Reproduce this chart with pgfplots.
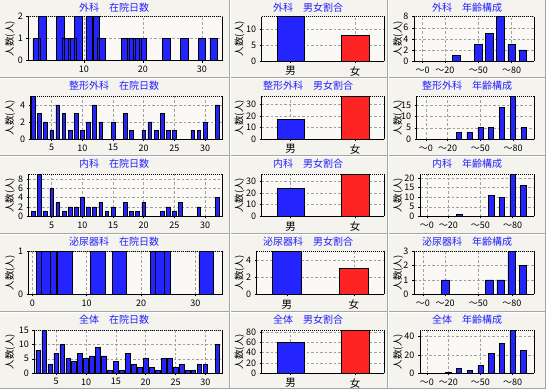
\documentclass[border=0pt]{standalone}
\usepackage{fontspec}
\setmainfont{Noto Sans CJK JP}
\usepackage{pgfplots}
\pgfplotsset{compat=1.18}
\definecolor{bgout}{RGB}{245,243,237}
\definecolor{bgin}{RGB}{250,249,245}
\definecolor{barblue}{RGB}{36,36,255}
\definecolor{barred}{RGB}{255,36,36}
\definecolor{titleblue}{RGB}{32,32,255}
\definecolor{gridgray}{RGB}{160,160,160}
\definecolor{sepgray}{RGB}{165,165,165}
\pgfplotsset{
 panel/.style={
  scale only axis, anchor=south west,
  axis background/.style={fill=bgin},
  axis x line*=bottom, axis y line*=left,
  axis line style={black, line width=0.9pt},
  ymin=0,
  ybar, bar shift=0pt,
  grid=major,
  major grid style={gridgray, dash pattern=on 2.5pt off 2pt, line width=0.5pt},
  tick align=outside, major tick length=2pt,
  tick style={black, line width=0.5pt},
  tick label style={font=\fontsize{9}{9}\selectfont},
  /pgf/number format/assume math mode=true,
  extra description/.code={
    \draw[black, line width=0.9pt, dash pattern=on 1pt off 1pt] (0,1) -- (1,1);
    \draw[black, line width=0.9pt] (1,0) -- (1,1);
  },
 },
 sexp/.style={panel, xmin=-0.45, xmax=1.45, bar width=0.43, xtick={0,1}, xticklabels={男,女},
   xticklabel style={font=\fontsize{10.5}{10.5}\selectfont}},
 agep/.style={panel, xmax=10, xtick={0,2,5,8}, xticklabels={～0,～20,～50,～80}},
 bb/.style={fill=barblue, draw=black, line width=0.6pt},
 rb/.style={fill=barred, draw=black, line width=0.6pt},
}
\newcommand{\ttl}[3]{\node[text=titleblue, font=\fontsize{10}{10}\selectfont] at (#1pt,#2pt) {#3};}
\newcommand{\ylab}[2]{\node[rotate=90, font=\fontsize{9.5}{9.5}\selectfont] at (#1pt,#2pt) {人数(人)};}
\begin{document}
\begin{tikzpicture}
\useasboundingbox (0pt,0pt) rectangle (546pt,389pt);
\fill[bgout] (0pt,0pt) rectangle (546pt,389pt);
% separators
\foreach \yy in {311.5,233.5,155.5,77.5}{
  \draw[sepgray, line width=1pt] (0pt,\yy pt) -- (546pt,\yy pt);
  \draw[white, line width=0.8pt] (0pt,\yy pt-1pt) -- (546pt,\yy pt-1pt);
}
\draw[sepgray, line width=1pt] (229pt,0pt) -- (229pt,389pt);
\draw[white, line width=0.8pt] (230pt,0pt) -- (230pt,389pt);
\draw[sepgray, line width=1pt] (387pt,0pt) -- (387pt,389pt);
\draw[white, line width=0.8pt] (388pt,0pt) -- (388pt,389pt);
\draw[sepgray, line width=1pt] (545.5pt,0pt) -- (545.5pt,389pt);
\draw[sepgray, line width=1pt] (0pt,0.5pt) -- (546pt,0.5pt);

% ---------------- Row 1: 外科
\begin{axis}[panel, at={(28.3pt,328.3pt)}, width=194pt, height=44pt,
  xmin=0.58, xmax=33.46, ymax=2, ytick={0,1,2}, xtick={10,20,30}, bar width=1.3]
\addplot[bb] coordinates {(2,1)(3,2)(6,2)(7,1)(8,1)(9,2)(11,2)(12,2)(13,1)(17,1)(18,1)(19,1)(20,1)(24,1)(27,1)(30,1)(32,1)};
\end{axis}
\begin{axis}[sexp, at={(261.7pt,328pt)}, width=122.3pt, height=44.3pt, ymax=14, ytick={0,5,10}]
\addplot[bb] coordinates {(0,14)};
\addplot[rb] coordinates {(1,8)};
\end{axis}
\begin{axis}[agep, at={(414pt,328pt)}, width=120pt, height=44.3pt, xmin=-0.78, ymax=8, ytick={0,2,4,6,8}, bar width=0.69]
\addplot[bb] coordinates {(3,1)(5,3)(6,5)(7,8)(8,3)(9,2)};
\end{axis}
\ttl{114}{381.5}{外科　在院日数}
\ttl{308}{381.5}{外科　男女割合}
\ttl{467}{381.5}{外科　年齢構成}
\ylab{10}{350.3}\ylab{239.5}{350.3}\ylab{398}{350.3}

% ---------------- Row 2: 整形外科
\begin{axis}[panel, at={(30.7pt,250pt)}, width=192pt, height=42.7pt,
  xmin=1.58, xmax=32.88, ymax=5, ytick={0,2,4}, xtick={5,10,15,20,25,30}, bar width=0.6]
\addplot[bb] coordinates {(2,5)(3,3)(4,2)(5,1)(6,4)(7,3)(8,1)(9,3)(10,1)(11,2)(12,4)(13,2)(15,2)(17,3)(18,1)(20,1)(21,2)(22,1)(23,3)(24,1)(25,1)(28,1)(29,1)(30,2)(32,4)};
\end{axis}
\begin{axis}[sexp, at={(261.7pt,250pt)}, width=122.3pt, height=42.7pt, ymax=37, ytick={0,10,20,30}]
\addplot[bb] coordinates {(0,17)};
\addplot[rb] coordinates {(1,37)};
\end{axis}
\begin{axis}[agep, at={(416.7pt,250pt)}, width=117.3pt, height=42.7pt, xmin=-0.85, xmax=9.93, ymax=19, ytick={0,5,10,15}, bar width=0.47]
\addplot[bb] coordinates {(3,3)(4,3)(5,5)(6,5)(7,14)(8,19)(9,5)};
\end{axis}
\ttl{114}{303.5}{整形外科　在院日数}
\ttl{308}{303.5}{整形外科　男女割合}
\ttl{467}{303.5}{整形外科　年齢構成}
\ylab{10}{271.35}\ylab{239.5}{271.35}\ylab{398}{271.35}

% ---------------- Row 3: 内科
\begin{axis}[panel, at={(28.7pt,172.7pt)}, width=194pt, height=42pt,
  xmin=1.25, xmax=32.88, ymax=9, ytick={0,2,4,6,8}, xtick={5,10,15,20,25,30}, bar width=0.6]
\addplot[bb] coordinates {(2,1)(3,9)(4,1)(5,6)(6,3)(7,1)(8,2)(9,2)(10,4)(11,2)(12,2)(13,3)(14,1)(15,2)(17,3)(18,1)(19,1)(20,3)(23,1)(24,2)(25,1)(26,3)(29,2)(32,4)};
\end{axis}
\begin{axis}[sexp, at={(261.7pt,172.7pt)}, width=122.3pt, height=42pt, ymax=36, ytick={0,10,20,30}]
\addplot[bb] coordinates {(0,24)};
\addplot[rb] coordinates {(1,36)};
\end{axis}
\begin{axis}[agep, at={(420pt,172.7pt)}, width=114pt, height=42pt, xmin=-0.65, ymax=22, ytick={0,5,10,15,20}, bar width=0.52]
\addplot[bb] coordinates {(3,1)(6,11)(7,10)(8,22)(9,16)};
\end{axis}
\ttl{114}{225.5}{内科　在院日数}
\ttl{308}{225.5}{内科　男女割合}
\ttl{467}{225.5}{内科　年齢構成}
\ylab{10}{193.7}\ylab{239.5}{193.7}\ylab{398}{193.7}

% ---------------- Row 4: 泌尿器科
\begin{axis}[panel, at={(28.7pt,94.7pt)}, width=194pt, height=43pt,
  xmin=-0.69, xmax=35.04, ymax=1, ytick={0,1}, xtick={0,10,20,30}, bar width=2.69]
\addplot[bb] coordinates {(2,1)(3,1)(6,1)(12,1)(16,1)(23,1)(24,1)(32,1)};
\end{axis}
\begin{axis}[sexp, at={(256.7pt,94.7pt)}, width=127.3pt, height=43pt, ymax=5, ytick={0,2,4}]
\addplot[bb] coordinates {(0,5)};
\addplot[rb] coordinates {(1,3)};
\end{axis}
\begin{axis}[agep, at={(414pt,94.7pt)}, width=120pt, height=43pt, xmin=-0.8, ymax=3, ytick={0,1,2,3}, bar width=0.69]
\addplot[bb] coordinates {(2,1)(6,1)(7,1)(8,3)(9,2)};
\end{axis}
\ttl{114}{147.5}{泌尿器科　在院日数}
\ttl{308}{147.5}{泌尿器科　男女割合}
\ttl{467}{147.5}{泌尿器科　年齢構成}
\ylab{10}{116.2}\ylab{239.5}{116.2}\ylab{398}{116.2}

% ---------------- Row 5: 全体
\begin{axis}[panel, at={(34.3pt,16pt)}, width=188.4pt, height=42.7pt,
  xmin=1.33, xmax=32.9, ymax=15, ytick={0,5,10,15}, xtick={5,10,15,20,25,30}, bar width=0.78]
\addplot[bb] coordinates {(2,8)(3,15)(4,3)(5,7)(6,10)(7,5)(8,4)(9,7)(10,5)(11,6)(12,9)(13,6)(14,1)(15,4)(16,1)(17,7)(18,3)(19,2)(20,5)(21,2)(22,1)(23,5)(24,5)(25,2)(26,3)(27,1)(28,1)(29,3)(30,3)(32,10)};
\end{axis}
\begin{axis}[sexp, at={(261.7pt,16pt)}, width=122.3pt, height=42.7pt, ymax=84, ytick={0,20,40,60,80}]
\addplot[bb] coordinates {(0,60)};
\addplot[rb] coordinates {(1,84)};
\end{axis}
\begin{axis}[agep, at={(420pt,16pt)}, width=114pt, height=42.7pt, xmin=-0.65, ymax=47, ytick={0,20,40}, bar width=0.49]
\addplot[bb] coordinates {(2,1)(3,5)(4,3)(5,8)(6,22)(7,33)(8,47)(9,25)};
\end{axis}
\ttl{114}{69.5}{全体　在院日数}
\ttl{308}{69.5}{全体　男女割合}
\ttl{467}{69.5}{全体　年齢構成}
\ylab{10}{37.35}\ylab{239.5}{37.35}\ylab{398}{37.35}
\end{tikzpicture}
\end{document}
